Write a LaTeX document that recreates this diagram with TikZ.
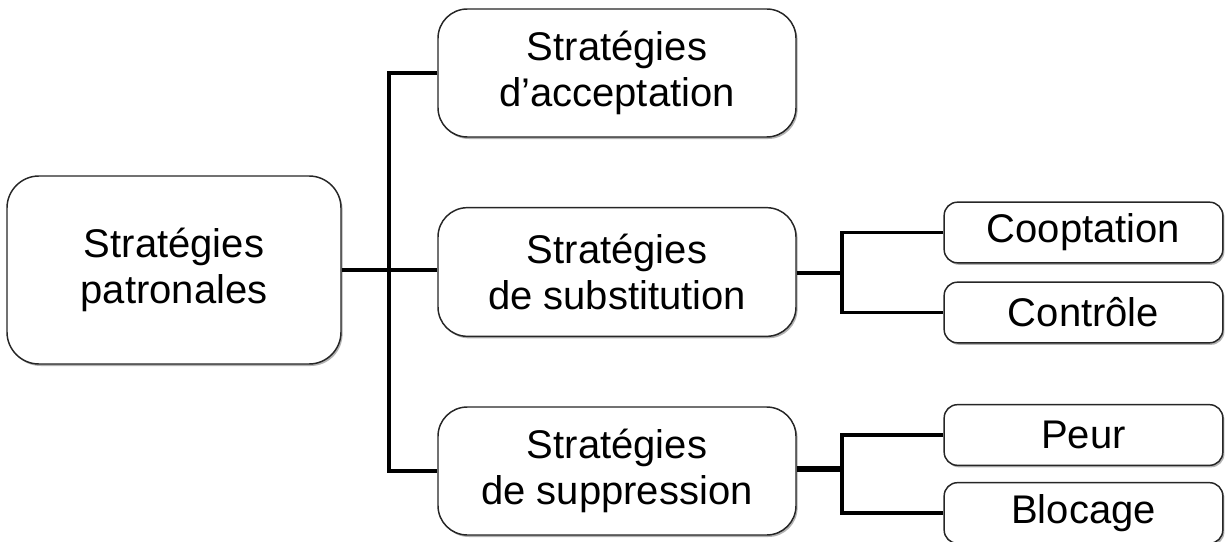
\documentclass[tikz,border=0pt]{standalone}
\usepackage{fontspec}
\setmainfont{Liberation Sans}
\usetikzlibrary{shadows}
\begin{document}
\begin{tikzpicture}[x=0.75pt,y=-0.75pt,
  box/.style={draw=black!85, line width=1.1pt, fill=white, inner sep=0pt, align=center,
    font=\fontsize{30}{34.5}\selectfont,
    drop shadow={shadow xshift=1.2pt, shadow yshift=-1.5pt, fill=black, opacity=0.3}},
  bigbox/.style={box, rounded corners=22pt},
  smallbox/.style={box, rounded corners=10pt, minimum width=209pt, minimum height=45.5pt},
  conn/.style={draw=black, line width=2.6pt}]
\useasboundingbox (0,0) rectangle (1225,542);

% root and first level
\node[bigbox, rounded corners=24pt, minimum width=250.5pt, minimum height=141pt] (root) at (174,270) {Stratégies\\patronales};
\node[bigbox, minimum width=268.5pt, minimum height=96pt] (acc) at (617,73) {Stratégies\\d’acceptation};
\node[bigbox, minimum width=268.5pt, minimum height=96.5pt] (sub) at (617,272) {Stratégies\\de substitution};
\node[bigbox, minimum width=268.5pt, minimum height=96pt] (sup) at (617,471) {Stratégies\\de suppression};

% second level
\node[smallbox] (coop) at (1083.5,232.5) {Cooptation};
\node[smallbox] (contr) at (1083.5,312.5) {Contrôle};
\node[smallbox] (peur) at (1083.5,435) {Peur};
\node[smallbox] (bloc) at (1083.5,513) {Blocage};

% branching points
\coordinate (t0) at (389,270);
\coordinate (t1) at (842,273);
\coordinate (t2) at (842,469);

\draw[conn] (root.east) -- (root.east -| sub.west);
\draw[conn] (acc.west) -| (t0) |- (sup.west);
\draw[conn] (sub.east |- t1) -- (t1);
\draw[conn] (coop.west) -| (t1) |- (contr.west);
\draw[conn, line width=4.2pt] (sup.east |- t2) -- (t2);
\draw[conn] (peur.west) -| (t2) |- (bloc.west);
\end{tikzpicture}
\end{document}
